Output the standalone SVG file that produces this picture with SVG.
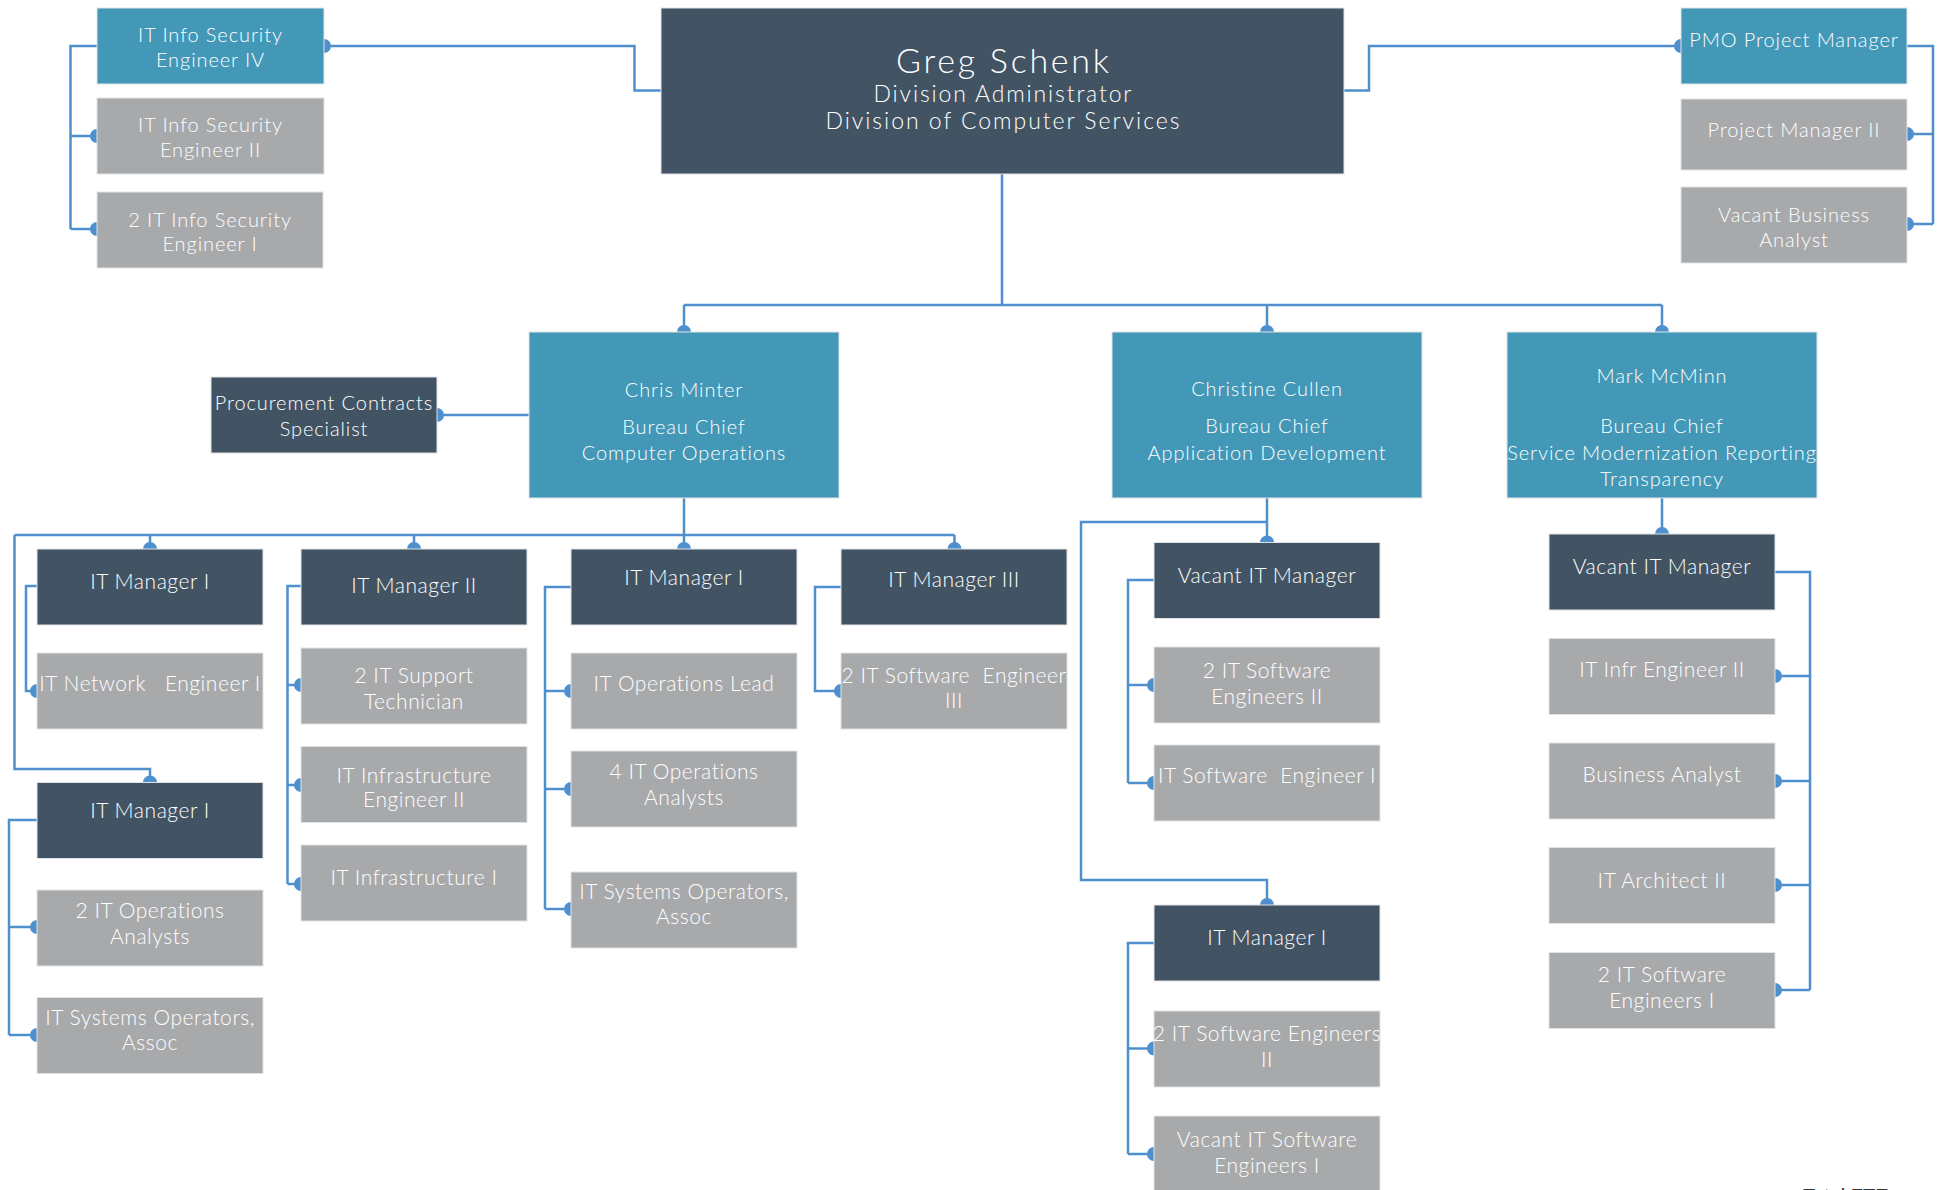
<svg xmlns="http://www.w3.org/2000/svg" width="1944" height="1190" viewBox="0 0 1944 1190">
  <style>
    .box { stroke: #dfe3e6; stroke-width: 1; }
    .teal { fill: #4398b7; }
    .dark { fill: #425464; }
    .gray { fill: #a8a9ab; }
    text { font-family: Lato, "Liberation Sans", sans-serif; font-weight: 300; fill: #ffffff; text-anchor: middle; }
    .t { font-size: 20px; letter-spacing: 0.9px; }
    .w { font-size: 21px; letter-spacing: 0.55px; }
    .conn { fill: none; stroke: #4e8fce; stroke-width: 2.5; stroke-linejoin: miter; }
    .conn .end { marker-end: url(#dot); }
  </style>
  <defs>
    <marker id="dot" viewBox="-8 -8 16 16" markerWidth="16" markerHeight="16" markerUnits="userSpaceOnUse" refX="0" refY="0" orient="auto">
      <path d="M0,-7 A7,7 0 0 0 0,7 Z" fill="#4e8fce"/>
    </marker>
  </defs>
  <rect width="1944" height="1190" fill="#ffffff"/>

  <!-- connectors -->
  <g id="connectors" class="conn">
    <!-- division administrator to side staff -->
    <polyline class="end" points="661,90.5 634.5,90.5 634.5,46 324,46"/>
    <polyline class="end" points="1344,90.5 1369,90.5 1369,46 1681,46"/>
    <!-- info security bracket -->
    <polyline points="97,46 70.5,46 70.5,229"/>
    <polyline class="end" points="70.5,136 97,136"/>
    <polyline class="end" points="70.5,229 97,229"/>
    <!-- PMO bracket -->
    <polyline points="1907,46 1933,46 1933,224"/>
    <polyline class="end" points="1933,134 1907,134"/>
    <polyline class="end" points="1933,224 1907,224"/>
    <!-- bureau chiefs -->
    <polyline points="1002,174 1002,305"/>
    <polyline points="684,305 1662,305"/>
    <polyline class="end" points="684,305 684,332"/>
    <polyline class="end" points="1267,305 1267,332"/>
    <polyline class="end" points="1662,305 1662,332"/>
    <!-- procurement -->
    <polyline class="end" points="529,415 437,415"/>
    <!-- computer operations managers -->
    <polyline points="684,498 684,535"/>
    <polyline points="14.5,535 954.5,535"/>
    <polyline class="end" points="150,535 150,549"/>
    <polyline class="end" points="414,535 414,549"/>
    <polyline class="end" points="684,535 684,549"/>
    <polyline class="end" points="954.5,535 954.5,549"/>
    <polyline class="end" points="14.5,535 14.5,769 150,769 150,782.5"/>
    <!-- column 1 -->
    <polyline class="end" points="37,586 26,586 26,691 37,691"/>
    <polyline points="37,820 9,820 9,1035"/>
    <polyline class="end" points="9,927 37,927"/>
    <polyline class="end" points="9,1035 37,1035"/>
    <!-- column 2 -->
    <polyline points="301,586 287.5,586 287.5,884"/>
    <polyline class="end" points="287.5,685 301,685"/>
    <polyline class="end" points="287.5,785 301,785"/>
    <polyline class="end" points="287.5,884 301,884"/>
    <!-- column 3 -->
    <polyline points="571,587 545,587 545,909"/>
    <polyline class="end" points="545,691 571,691"/>
    <polyline class="end" points="545,789 571,789"/>
    <polyline class="end" points="545,909 571,909"/>
    <!-- column 4 -->
    <polyline class="end" points="841,587 815,587 815,691 841,691"/>
    <!-- application development -->
    <polyline class="end" points="1267,498 1267,542.5"/>
    <polyline class="end" points="1267,522 1081,522 1081,880 1267,880 1267,905"/>
    <polyline points="1154,580 1128,580 1128,783"/>
    <polyline class="end" points="1128,685 1154,685"/>
    <polyline class="end" points="1128,783 1154,783"/>
    <polyline points="1154,943 1128,943 1128,1154"/>
    <polyline class="end" points="1128,1048.5 1154,1048.5"/>
    <polyline class="end" points="1128,1154 1154,1154"/>
    <!-- service modernization -->
    <polyline class="end" points="1662,498 1662,534"/>
    <polyline points="1775,572 1810,572 1810,990"/>
    <polyline class="end" points="1810,676 1775,676"/>
    <polyline class="end" points="1810,781 1775,781"/>
    <polyline class="end" points="1810,885 1775,885"/>
    <polyline class="end" points="1810,990 1775,990"/>
  </g>

  <!-- top level -->
  <g id="greg-schenk">
    <rect class="box dark" x="661" y="8" width="683" height="166"/>
    <text x="1002.5" y="73" font-size="34" textLength="213" lengthAdjust="spacing">Greg Schenk</text>
    <text x="1002.5" y="102" font-size="23" textLength="258" lengthAdjust="spacing">Division Administrator</text>
    <text x="1002.5" y="129" font-size="23" textLength="354" lengthAdjust="spacing">Division of Computer Services</text>
  </g>

  <g id="infosec-iv">
    <rect class="box teal" x="97" y="8" width="227" height="76"/>
    <text class="t" x="210.5" y="42">IT Info Security</text>
    <text class="t" x="210.5" y="67">Engineer IV</text>
  </g>
  <g id="infosec-ii">
    <rect class="box gray" x="97" y="98" width="227" height="76"/>
    <text class="t" x="210.5" y="132">IT Info Security</text>
    <text class="t" x="210.5" y="157">Engineer II</text>
  </g>
  <g id="infosec-i">
    <rect class="box gray" x="97" y="192" width="226" height="76"/>
    <text class="t" x="210" y="227">2 IT Info Security</text>
    <text class="t" x="210" y="251">Engineer I</text>
  </g>

  <g id="pmo-project-manager">
    <rect class="box teal" x="1681" y="8" width="226" height="76"/>
    <text class="t" x="1794" y="47">PMO Project Manager</text>
  </g>
  <g id="project-manager-ii">
    <rect class="box gray" x="1681" y="99" width="226" height="71"/>
    <text class="t" x="1794" y="137">Project Manager II</text>
  </g>
  <g id="vacant-business-analyst">
    <rect class="box gray" x="1681" y="187" width="226" height="76"/>
    <text class="t" x="1794" y="222">Vacant Business</text>
    <text class="t" x="1794" y="247">Analyst</text>
  </g>

  <!-- bureau chiefs -->
  <g id="chris-minter">
    <rect class="box teal" x="529" y="332" width="310" height="166"/>
    <text class="t" x="684" y="396.5">Chris Minter</text>
    <text class="t" x="684" y="434">Bureau Chief</text>
    <text class="t" x="684" y="460">Computer Operations</text>
  </g>
  <g id="procurement-contracts">
    <rect class="box dark" x="211" y="377" width="226" height="76"/>
    <text class="t" x="324" y="410">Procurement Contracts</text>
    <text class="t" x="324" y="436">Specialist</text>
  </g>
  <g id="christine-cullen">
    <rect class="box teal" x="1112" y="332" width="310" height="166"/>
    <text class="t" x="1267" y="396">Christine Cullen</text>
    <text class="t" x="1267" y="433">Bureau Chief</text>
    <text class="t" x="1267" y="460">Application Development</text>
  </g>
  <g id="mark-mcminn">
    <rect class="box teal" x="1507" y="332" width="310" height="166"/>
    <text class="t" x="1662" y="383">Mark McMinn</text>
    <text class="t" x="1662" y="433">Bureau Chief</text>
    <text class="t" x="1662" y="460">Service Modernization Reporting</text>
    <text class="t" x="1662" y="486">Transparency</text>
  </g>

  <!-- computer operations, column 1 -->
  <g id="c1-it-manager-i">
    <rect class="box dark" x="37" y="549" width="226" height="76"/>
    <text class="w" x="150" y="589">IT Manager I</text>
  </g>
  <g id="c1-network-engineer">
    <rect class="box gray" x="37" y="653" width="226" height="76"/>
    <text class="w" x="150" y="691" xml:space="preserve">IT Network   Engineer I</text>
  </g>
  <g id="c1-it-manager-i-b">
    <rect class="box dark" x="37" y="782.5" width="226" height="76"/>
    <text class="w" x="150" y="818">IT Manager I</text>
  </g>
  <g id="c1-operations-analysts">
    <rect class="box gray" x="37" y="890" width="226" height="76"/>
    <text class="w" x="150" y="917.5">2 IT Operations</text>
    <text class="w" x="150" y="944">Analysts</text>
  </g>
  <g id="c1-systems-operators">
    <rect class="box gray" x="37" y="997.5" width="226" height="76"/>
    <text class="w" x="150" y="1024.5">IT Systems Operators,</text>
    <text class="w" x="150" y="1049.5">Assoc</text>
  </g>

  <!-- computer operations, column 2 -->
  <g id="c2-it-manager-ii">
    <rect class="box dark" x="301" y="549" width="226" height="76"/>
    <text class="w" x="414" y="593">IT Manager II</text>
  </g>
  <g id="c2-support-technician">
    <rect class="box gray" x="301" y="648" width="226" height="76"/>
    <text class="w" x="414" y="683">2 IT Support</text>
    <text class="w" x="414" y="708.5">Technician</text>
  </g>
  <g id="c2-infrastructure-ii">
    <rect class="box gray" x="301" y="746.5" width="226" height="76"/>
    <text class="w" x="414" y="782.5">IT Infrastructure</text>
    <text class="w" x="414" y="807">Engineer II</text>
  </g>
  <g id="c2-infrastructure-i">
    <rect class="box gray" x="301" y="845" width="226" height="76"/>
    <text class="w" x="414" y="885">IT Infrastructure I</text>
  </g>

  <!-- computer operations, column 3 -->
  <g id="c3-it-manager-i">
    <rect class="box dark" x="571" y="549" width="226" height="76"/>
    <text class="w" x="684" y="585">IT Manager I</text>
  </g>
  <g id="c3-operations-lead">
    <rect class="box gray" x="571" y="653" width="226" height="76"/>
    <text class="w" x="684" y="691">IT Operations Lead</text>
  </g>
  <g id="c3-operations-analysts">
    <rect class="box gray" x="571" y="751" width="226" height="76"/>
    <text class="w" x="684" y="779">4 IT Operations</text>
    <text class="w" x="684" y="805">Analysts</text>
  </g>
  <g id="c3-systems-operators">
    <rect class="box gray" x="571" y="872" width="226" height="76"/>
    <text class="w" x="684" y="899">IT Systems Operators,</text>
    <text class="w" x="684" y="924">Assoc</text>
  </g>

  <!-- computer operations, column 4 -->
  <g id="c4-it-manager-iii">
    <rect class="box dark" x="841" y="549" width="226" height="76"/>
    <text class="w" x="954" y="587">IT Manager III</text>
  </g>
  <g id="c4-software-engineer-iii">
    <rect class="box gray" x="841" y="653" width="226" height="76"/>
    <text class="w" x="954" y="683" xml:space="preserve">2 IT Software  Engineer</text>
    <text class="w" x="954" y="708">III</text>
  </g>

  <!-- application development -->
  <g id="ad-vacant-it-manager">
    <rect class="box dark" x="1154" y="542.5" width="226" height="76"/>
    <text class="w" x="1267" y="583">Vacant IT Manager</text>
  </g>
  <g id="ad-software-engineers-ii">
    <rect class="box gray" x="1154" y="647" width="226" height="76"/>
    <text class="w" x="1267" y="677.5">2 IT Software</text>
    <text class="w" x="1267" y="703.5">Engineers II</text>
  </g>
  <g id="ad-software-engineer-i">
    <rect class="box gray" x="1154" y="745" width="226" height="76"/>
    <text class="w" x="1267" y="783" xml:space="preserve">IT Software  Engineer I</text>
  </g>
  <g id="ad-it-manager-i">
    <rect class="box dark" x="1154" y="905" width="226" height="76"/>
    <text class="w" x="1267" y="945">IT Manager I</text>
  </g>
  <g id="ad-software-engineers-ii-b">
    <rect class="box gray" x="1154" y="1011" width="226" height="76"/>
    <text class="w" x="1267" y="1041">2 IT Software Engineers</text>
    <text class="w" x="1267" y="1067">II</text>
  </g>
  <g id="ad-vacant-software-engineers-i">
    <rect class="box gray" x="1154" y="1116" width="226" height="76"/>
    <text class="w" x="1267" y="1147">Vacant IT Software</text>
    <text class="w" x="1267" y="1173">Engineers I</text>
  </g>

  <!-- service modernization -->
  <g id="sm-vacant-it-manager">
    <rect class="box dark" x="1549" y="534" width="226" height="76"/>
    <text class="w" x="1662" y="574">Vacant IT Manager</text>
  </g>
  <g id="sm-infr-engineer-ii">
    <rect class="box gray" x="1549" y="638.5" width="226" height="76"/>
    <text class="w" x="1662" y="677">IT Infr Engineer II</text>
  </g>
  <g id="sm-business-analyst">
    <rect class="box gray" x="1549" y="743" width="226" height="76"/>
    <text class="w" x="1662" y="782">Business Analyst</text>
  </g>
  <g id="sm-architect-ii">
    <rect class="box gray" x="1549" y="847.5" width="226" height="76"/>
    <text class="w" x="1662" y="887.5">IT Architect II</text>
  </g>
  <g id="sm-software-engineers-i">
    <rect class="box gray" x="1549" y="952.5" width="226" height="76"/>
    <text class="w" x="1662" y="982">2 IT Software</text>
    <text class="w" x="1662" y="1008">Engineers I</text>
  </g>

  <!-- staff total, running off the bottom edge -->
  <text x="1803" y="1203" font-size="20" font-weight="700" style="fill:#333333;text-anchor:start;font-family:'Liberation Sans',sans-serif">Total FTE:</text>
</svg>
